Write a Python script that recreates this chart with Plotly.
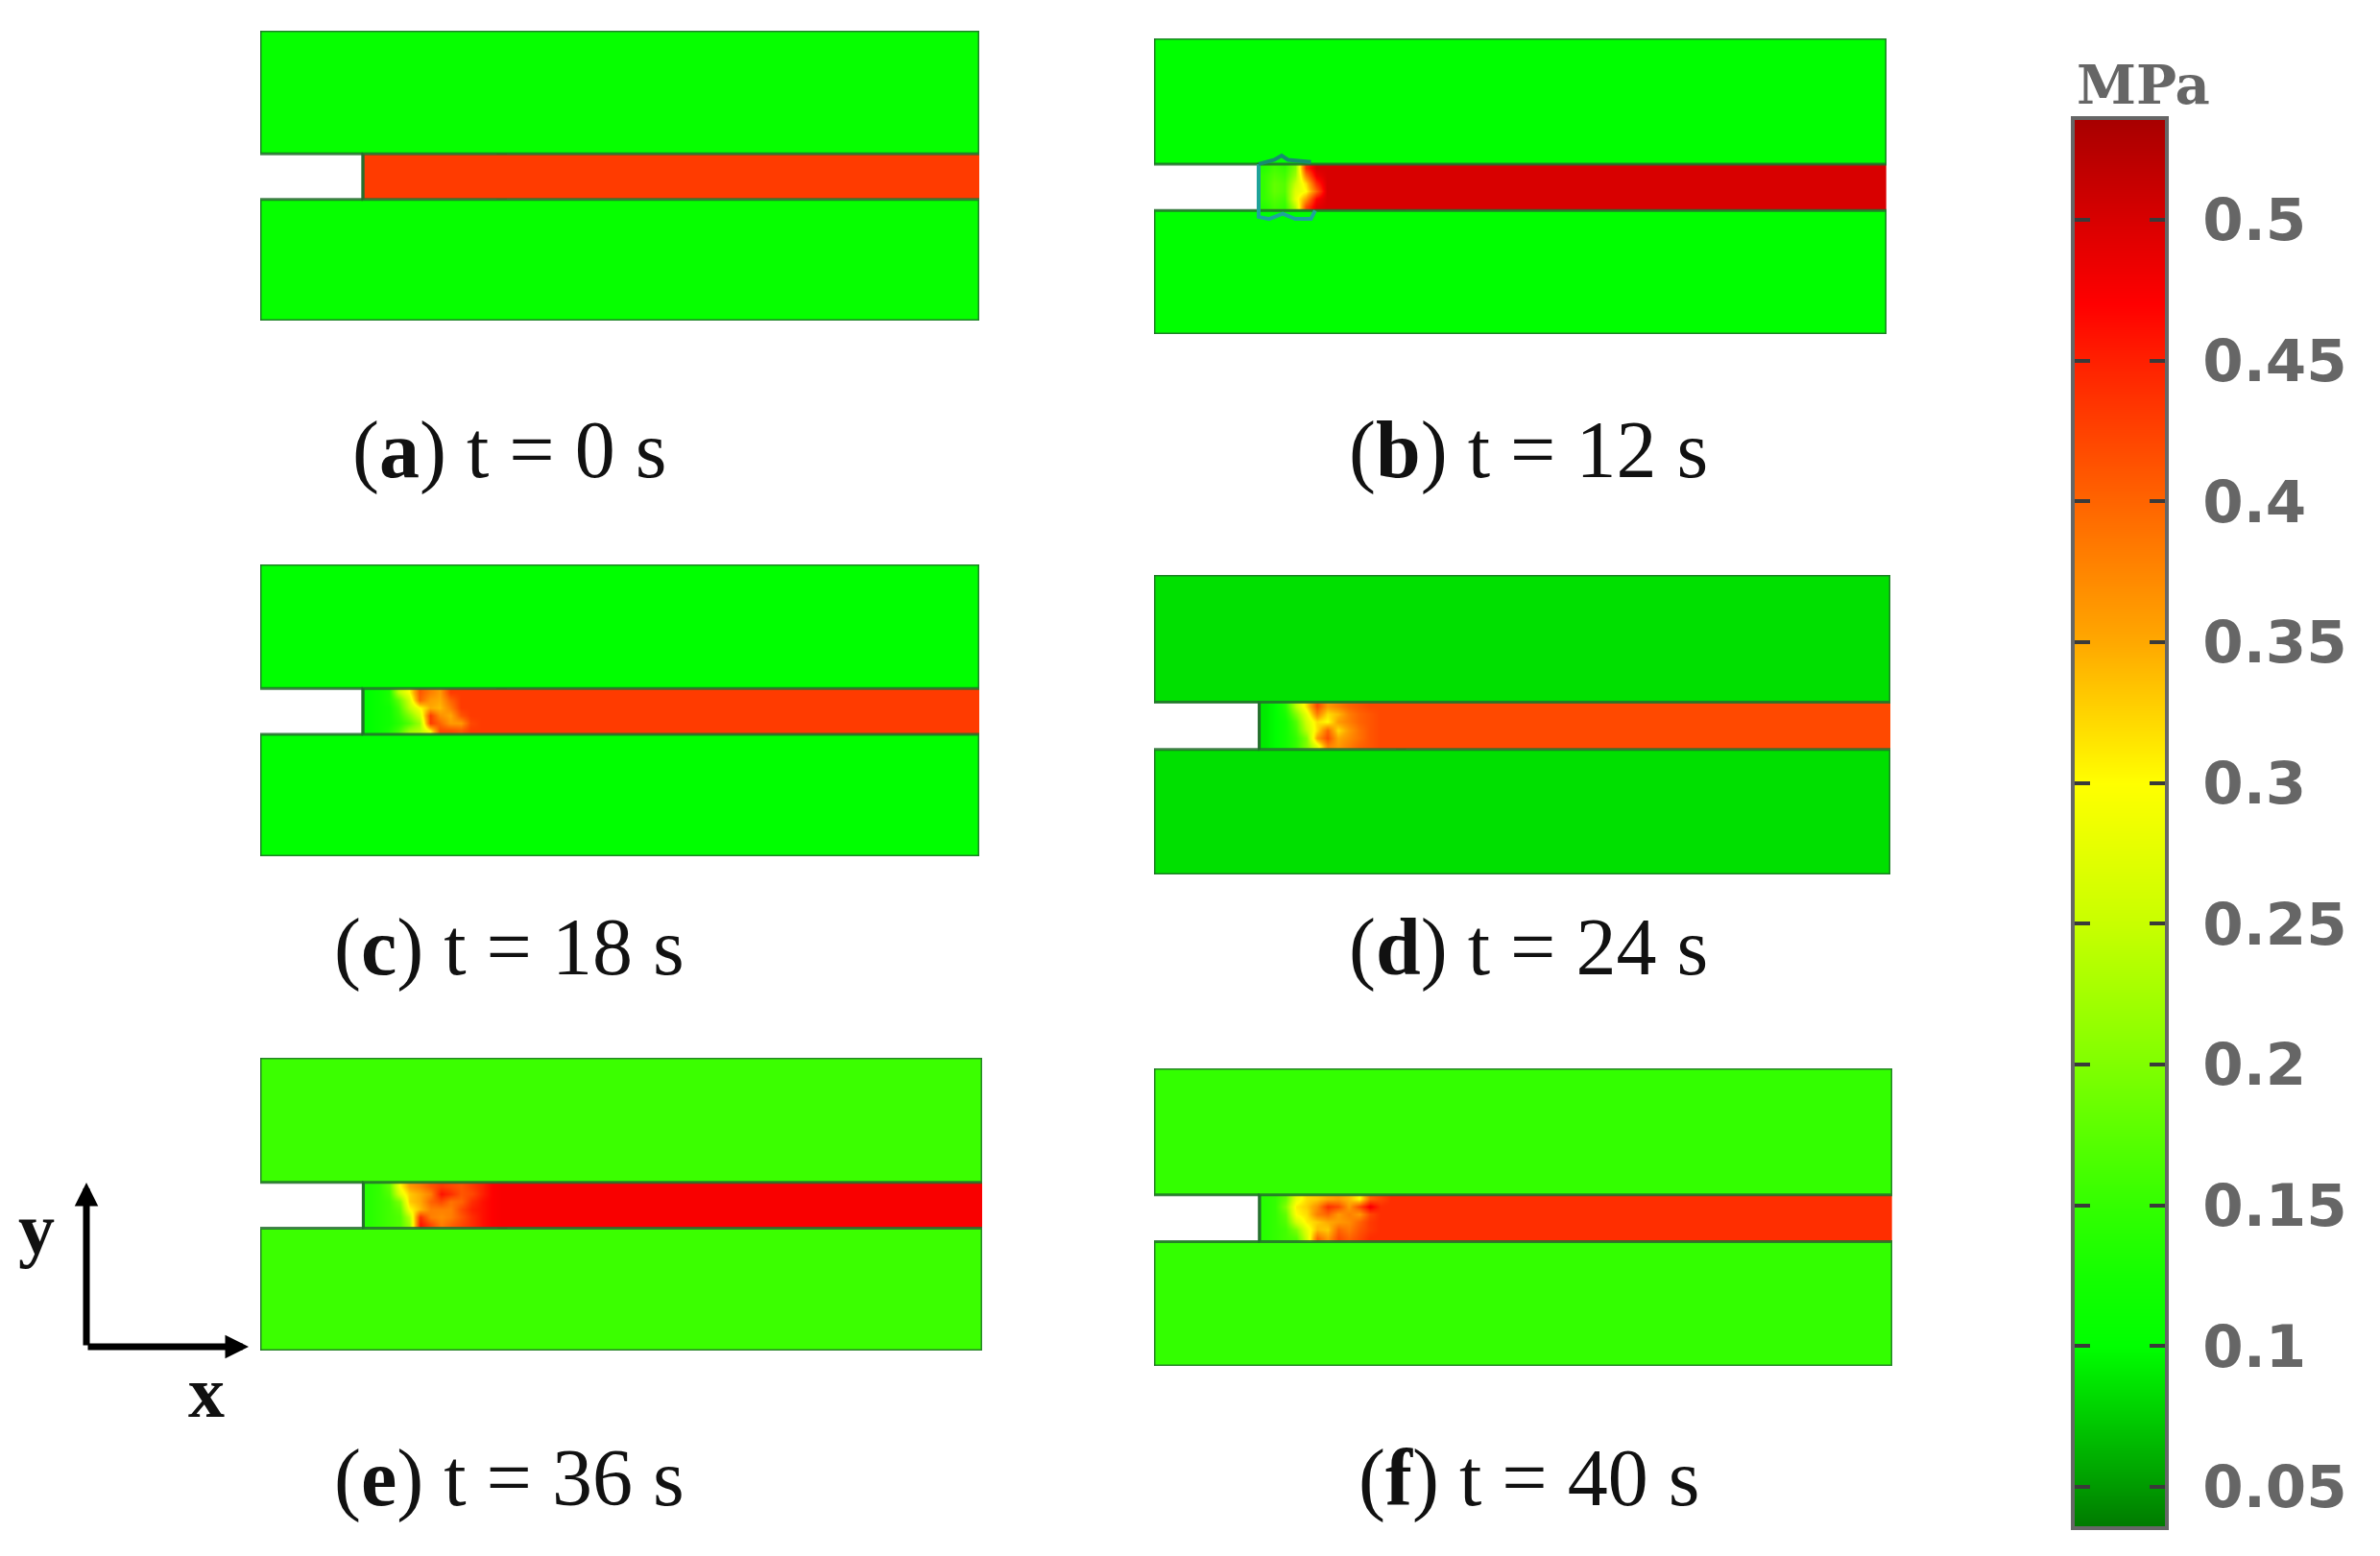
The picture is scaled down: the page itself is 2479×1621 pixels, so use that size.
import plotly.graph_objects as go

FIG_W = 2479
FIG_H = 1621

# stress colour scale (MPa)
scale_values = [0.036, 0.05, 0.075, 0.1, 0.125, 0.15, 0.2, 0.25, 0.3, 0.35, 0.4, 0.45, 0.47, 0.5, 0.5354]
scale_colors = ['#007a00', '#009a00', '#00cc00', '#00ff00', '#14ff00', '#33ff00', '#80ff00', '#c8ff00',
                '#ffff00', '#ffa800', '#ff6400', '#ff2000', '#ff0000', '#d80000', '#a80000']
tick_values = [0.05, 0.1, 0.15, 0.2, 0.25, 0.3, 0.35, 0.4, 0.45, 0.5]
tick_labels = ['0.05', '0.1', '0.15', '0.2', '0.25', '0.3', '0.35', '0.4', '0.45', '0.5']

# specimen geometry, same for all panels
model_len = 70
model_h = 28
notch_end = 10
channel_low = 11.7
channel_high = 16.1
tail_start = 23

front_x = [10.5, 11.5, 12.5, 13.5, 14.5, 15.5, 16.5, 17.5, 18.5, 19.5, 20.5, 21.5, 22.5, 23.5]
front_y = [12.07, 12.8, 13.53, 14.27, 15.0, 15.73]

panel_ids = ['a', 'b', 'c', 'd', 'e', 'f']
panel_times = [0, 12, 18, 24, 36, 40]
block_values = [0.108, 0.1, 0.1, 0.085, 0.155, 0.15]
tail_values = [0.43, 0.5, 0.43, 0.42, 0.475, 0.44]

# stress in the channel near the crack front, rows bottom to top
front_a = [[0.43] * 14] * 6
front_b = [
    [0.14, 0.16, 0.15, 0.24, 0.42, 0.49, 0.5, 0.5, 0.5, 0.5, 0.5, 0.5, 0.5, 0.5],
    [0.15, 0.17, 0.16, 0.28, 0.36, 0.47, 0.5, 0.5, 0.5, 0.5, 0.5, 0.5, 0.5, 0.5],
    [0.15, 0.18, 0.17, 0.27, 0.30, 0.40, 0.5, 0.5, 0.5, 0.5, 0.5, 0.5, 0.5, 0.5],
    [0.15, 0.18, 0.17, 0.25, 0.32, 0.44, 0.5, 0.5, 0.5, 0.5, 0.5, 0.5, 0.5, 0.5],
    [0.15, 0.17, 0.16, 0.22, 0.38, 0.48, 0.5, 0.5, 0.5, 0.5, 0.5, 0.5, 0.5, 0.5],
    [0.14, 0.16, 0.15, 0.20, 0.44, 0.5, 0.5, 0.5, 0.5, 0.5, 0.5, 0.5, 0.5, 0.5],
]
front_c = [
    [0.10, 0.11, 0.13, 0.16, 0.22, 0.24, 0.30, 0.42, 0.42, 0.41, 0.43, 0.43, 0.43, 0.43],
    [0.10, 0.11, 0.12, 0.14, 0.17, 0.22, 0.43, 0.40, 0.36, 0.36, 0.42, 0.43, 0.43, 0.43],
    [0.10, 0.11, 0.12, 0.15, 0.20, 0.26, 0.43, 0.37, 0.35, 0.41, 0.43, 0.43, 0.43, 0.43],
    [0.10, 0.11, 0.12, 0.16, 0.24, 0.30, 0.35, 0.34, 0.38, 0.43, 0.43, 0.43, 0.43, 0.43],
    [0.10, 0.11, 0.13, 0.18, 0.26, 0.40, 0.36, 0.35, 0.40, 0.43, 0.43, 0.43, 0.43, 0.43],
    [0.10, 0.11, 0.13, 0.24, 0.30, 0.41, 0.38, 0.36, 0.43, 0.43, 0.43, 0.43, 0.43, 0.43],
]
front_d = [
    [0.09, 0.10, 0.12, 0.15, 0.20, 0.28, 0.38, 0.36, 0.38, 0.40, 0.41, 0.42, 0.42, 0.42],
    [0.09, 0.10, 0.12, 0.15, 0.20, 0.36, 0.42, 0.35, 0.37, 0.39, 0.41, 0.42, 0.42, 0.42],
    [0.09, 0.10, 0.12, 0.16, 0.24, 0.32, 0.40, 0.32, 0.36, 0.39, 0.41, 0.42, 0.42, 0.42],
    [0.09, 0.10, 0.12, 0.17, 0.26, 0.32, 0.30, 0.36, 0.38, 0.40, 0.41, 0.42, 0.42, 0.42],
    [0.09, 0.10, 0.13, 0.20, 0.28, 0.38, 0.32, 0.34, 0.38, 0.40, 0.41, 0.42, 0.42, 0.42],
    [0.09, 0.10, 0.14, 0.24, 0.32, 0.42, 0.36, 0.38, 0.40, 0.41, 0.42, 0.42, 0.42, 0.42],
]
front_e = [
    [0.14, 0.15, 0.16, 0.17, 0.22, 0.46, 0.42, 0.38, 0.40, 0.42, 0.44, 0.46, 0.47, 0.475],
    [0.14, 0.15, 0.16, 0.17, 0.24, 0.44, 0.38, 0.37, 0.38, 0.41, 0.44, 0.46, 0.47, 0.475],
    [0.14, 0.15, 0.16, 0.18, 0.30, 0.34, 0.38, 0.38, 0.38, 0.42, 0.45, 0.46, 0.47, 0.475],
    [0.14, 0.15, 0.16, 0.20, 0.33, 0.35, 0.40, 0.42, 0.39, 0.40, 0.44, 0.46, 0.47, 0.475],
    [0.14, 0.15, 0.17, 0.27, 0.33, 0.35, 0.38, 0.46, 0.44, 0.41, 0.42, 0.45, 0.47, 0.475],
    [0.14, 0.15, 0.18, 0.30, 0.36, 0.38, 0.41, 0.43, 0.42, 0.41, 0.43, 0.45, 0.47, 0.475],
]
front_f = [
    [0.14, 0.15, 0.16, 0.17, 0.26, 0.40, 0.36, 0.42, 0.40, 0.42, 0.44, 0.44, 0.44, 0.44],
    [0.14, 0.15, 0.16, 0.20, 0.28, 0.34, 0.33, 0.40, 0.38, 0.41, 0.43, 0.44, 0.44, 0.44],
    [0.14, 0.15, 0.17, 0.26, 0.31, 0.33, 0.35, 0.36, 0.37, 0.40, 0.43, 0.44, 0.44, 0.44],
    [0.14, 0.15, 0.18, 0.30, 0.32, 0.38, 0.40, 0.36, 0.38, 0.36, 0.42, 0.44, 0.44, 0.44],
    [0.14, 0.15, 0.20, 0.31, 0.33, 0.37, 0.44, 0.42, 0.36, 0.42, 0.48, 0.44, 0.44, 0.44],
    [0.14, 0.15, 0.18, 0.28, 0.32, 0.33, 0.35, 0.36, 0.34, 0.30, 0.40, 0.42, 0.44, 0.44],
]
front_grids = [front_a, front_b, front_c, front_d, front_e, front_f]

# small outline around the crack tip in panel b
tip_outline_x = [10, 10, 11, 12.3, 13.5, 15, 15.4]
tip_outline_y = [16.1, 11.1, 10.9, 11.4, 10.9, 10.9, 11.7]
tip_outline_top_x = [10, 11.5, 12.2, 12.8, 15]
tip_outline_top_y = [16.1, 16.5, 16.9, 16.5, 16.3]

# panel boxes in page pixels: left, right, top, bottom
panel_boxes = [
    (271, 1020, 32, 334),
    (1202, 1965, 40, 348),
    (271, 1020, 588, 892),
    (1202, 1969, 599, 911),
    (271, 1023, 1102, 1407),
    (1202, 1971, 1113, 1423),
]
caption_centers = [(530, 469), (1592, 469), (530, 987), (1592, 987), (530, 1540), (1592, 1540)]
legend_box = (2161, 2255, 125, 1590)

outline_color = 'rgba(35,110,45,0.85)'
serif = 'Liberation Serif'


def px_x(value):
    return value / FIG_W


def px_y(value):
    return 1 - value / FIG_H


zmin = scale_values[0]
zmax = scale_values[-1]
colorscale = [[(v - zmin) / (zmax - zmin), c] for v, c in zip(scale_values, scale_colors)]

fig = go.Figure()

for i, box in enumerate(panel_boxes):
    n = i + 1
    left, right, top, bottom = box
    xname = f'x{n}'
    yname = f'y{n}'
    fig.add_trace(go.Heatmap(
        x=[0, model_len], y=[0, channel_low, channel_high, model_h],
        z=[[block_values[i]], [None], [block_values[i]]],
        coloraxis='coloraxis', xaxis=xname, yaxis=yname, hoverongaps=False))
    fig.add_trace(go.Heatmap(
        x=[tail_start, model_len], y=[channel_low, channel_high],
        z=[[tail_values[i]]],
        coloraxis='coloraxis', xaxis=xname, yaxis=yname))
    fig.add_trace(go.Heatmap(
        x=front_x, y=front_y, z=front_grids[i], zsmooth='best',
        coloraxis='coloraxis', xaxis=xname, yaxis=yname))
    # block and notch outlines
    fig.add_trace(go.Scatter(
        x=[0, model_len, model_len, notch_end, notch_end, None, 0, model_len, model_len, notch_end, notch_end],
        y=[model_h, model_h, channel_high, channel_high, channel_low, None,
           0, 0, channel_low, channel_low, channel_high],
        mode='lines', line=dict(color=outline_color, width=3), hoverinfo='skip',
        xaxis=xname, yaxis=yname))
    fig.add_trace(go.Scatter(
        x=[0, 0, notch_end, None, 0, 0, notch_end],
        y=[model_h, channel_high, channel_high, None, 0, channel_low, channel_low],
        mode='lines', line=dict(color=outline_color, width=3), hoverinfo='skip',
        xaxis=xname, yaxis=yname))
    if panel_ids[i] == 'b':
        fig.add_trace(go.Scatter(x=tip_outline_x, y=tip_outline_y, mode='lines',
                                 line=dict(color='#1fa39a', width=4), hoverinfo='skip',
                                 xaxis=xname, yaxis=yname))
        fig.add_trace(go.Scatter(x=tip_outline_top_x, y=tip_outline_top_y, mode='lines',
                                 line=dict(color='#178a70', width=4), hoverinfo='skip',
                                 xaxis=xname, yaxis=yname))
    fig.update_layout({
        f'xaxis{n}': dict(domain=[px_x(left), px_x(right)], range=[0, model_len], visible=False,
                          anchor=yname, fixedrange=True),
        f'yaxis{n}': dict(domain=[px_y(bottom), px_y(top)], range=[0, model_h], visible=False,
                          anchor=xname, fixedrange=True),
    })

# legend bar as its own small axis so ticks can sit on both sides
fig.add_trace(go.Heatmap(
    x=[0, 1], y=scale_values, z=[[v, v] for v in scale_values], zsmooth='best',
    coloraxis='coloraxis', xaxis='x7', yaxis='y7'))
fig.update_layout(
    xaxis7=dict(domain=[px_x(legend_box[0]), px_x(legend_box[1])], range=[0, 1], anchor='y7',
                showticklabels=False, ticks='', showgrid=False, zeroline=False,
                showline=True, mirror=True, linecolor='#666666', linewidth=4),
    yaxis7=dict(domain=[px_y(legend_box[3]), px_y(legend_box[2])], range=[zmin, zmax], anchor='x7',
                side='right', tickvals=tick_values, ticktext=tick_labels, ticks='inside',
                ticklen=16, tickwidth=4, tickcolor='#3a3a3a', ticklabelstandoff=23,
                tickfont=dict(family='DejaVu Sans', size=61, color='#666666', weight=700),
                showgrid=False, zeroline=False,
                showline=True, mirror='allticks', linecolor='#666666', linewidth=4),
)

annotations = []
for pid, t, pos in zip(panel_ids, panel_times, caption_centers):
    annotations.append(dict(
        text=f'(<b>{pid}</b>) t = {t} s', x=px_x(pos[0]), y=px_y(pos[1]), xref='paper', yref='paper',
        xanchor='center', yanchor='middle', showarrow=False,
        font=dict(family=serif, size=84, color='#111111')))
annotations.append(dict(
    text='<b>MPa</b>', x=px_x(2232), y=px_y(88), xref='paper', yref='paper', xanchor='center', yanchor='middle',
    showarrow=False, font=dict(family='DejaVu Serif', size=56, color='#666666')))
annotations.append(dict(
    text='<b>y</b>', x=px_x(38), y=px_y(1280), xref='paper', yref='paper', xanchor='center', yanchor='middle',
    showarrow=False, font=dict(family=serif, size=76, color='#111111')))
annotations.append(dict(
    text='<b>x</b>', x=px_x(215), y=px_y(1450), xref='paper', yref='paper', xanchor='center', yanchor='middle',
    showarrow=False, font=dict(family=serif, size=76, color='#111111')))
# coordinate arrows, offsets in pixels back to the shared origin
for tip, back in [((90, 1232), (0, 171)), ((259, 1403), (-169, 0))]:
    annotations.append(dict(
        x=px_x(tip[0]), y=px_y(tip[1]), ax=back[0], ay=back[1], xref='paper', yref='paper',
        axref='pixel', ayref='pixel', text='', showarrow=True, arrowhead=2, arrowsize=0.7,
        arrowwidth=7, arrowcolor='#000000', standoff=0))

fig.update_layout(
    width=FIG_W,
    height=FIG_H,
    autosize=False,
    margin=dict(l=0, r=0, t=0, b=0),
    paper_bgcolor='white',
    plot_bgcolor='white',
    showlegend=False,
    coloraxis=dict(colorscale=colorscale, cmin=zmin, cmax=zmax, showscale=False),
    annotations=annotations,
)

fig.write_html("out.html", config={'displayModeBar': False},
               post_script="document.body.style.margin='0';")
